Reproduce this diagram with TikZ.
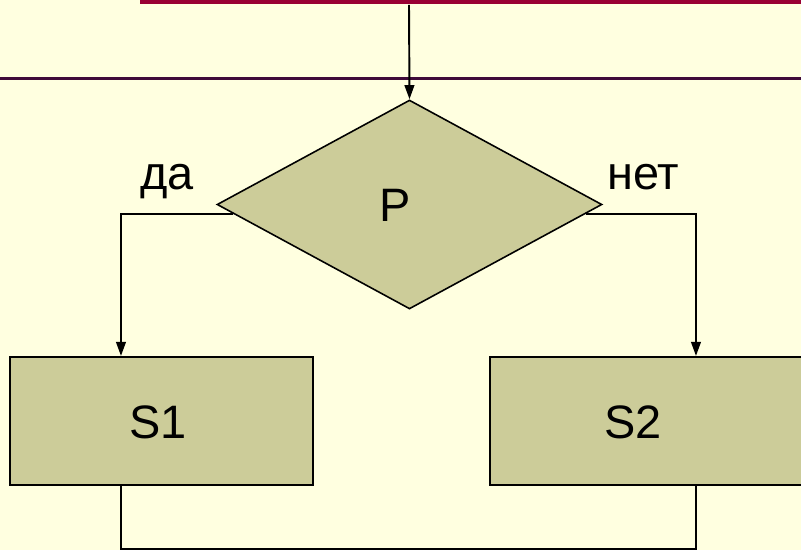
\documentclass[tikz,border=0pt]{standalone}
\usepackage{fontspec}
\setmainfont{Liberation Sans}
\usetikzlibrary{shapes.geometric,arrows.meta,calc}

\definecolor{paper}{HTML}{FFFFE0}
\definecolor{olive}{HTML}{CCCC99}
\definecolor{barred}{HTML}{990033}
\definecolor{barplum}{HTML}{3F0A3A}

\begin{document}
\begin{tikzpicture}[x=0.02cm, y=-0.02cm, >={Triangle[length=8pt, width=5.5pt]},
  font=\fontsize{26.7}{32}\selectfont]

% Styles
\tikzstyle{block} = [draw, line width=1.2pt, rectangle, fill=olive, inner sep=0pt]
\tikzstyle{cond}  = [draw, line width=0.9pt, diamond, fill=olive, inner sep=0pt,
                     minimum width=7.7cm, minimum height=4.18cm]
\tikzstyle{wire}  = [line width=1.1pt]

% Page
\fill [paper] (0,0) rectangle (801,550);
\useasboundingbox (0,0) rectangle (801,550);
\draw [barred, line width=2.3pt] (140,1.5) -- (801,1.5);
\draw [barplum, line width=2pt] (0,78.5) -- (801,78.5);

% Nodes
\coordinate (in) at (409,5);
\node [cond] (p) at (409.5,204.5) {};
\node [block, minimum width=6.06cm, minimum height=2.56cm] (s1) at (161.5,421) {};
\node [block, minimum width=6.3cm, minimum height=2.56cm] (s2) at (647.5,421) {};

% Labels
\node [anchor=base] (ptext) at (395.5,222) {P};
\node [anchor=center] (s1text) at (158,422) {S1};
\node [anchor=center] (s2text) at (633,422) {S2};
\node [anchor=base west, inner sep=0pt] (yes) at (140,190) {да};
\node [anchor=base west, inner sep=0pt] (no) at (607,190) {нет};

% Connectors
\draw [wire, ->] (in) -- (p.north);
\draw [wire, ->] (p.183.3) -| ($(s1.north west)+(112,0)$);
\draw [wire, ->] (p.-3.3) -| ($(s2.north west)+(207,0)$);
\draw [wire] ($(s1.south west)+(112,0)$) |- ($(s2.south west)+(207,63)$)
  -- ($(s2.south west)+(207,0)$);

\end{tikzpicture}
\end{document}
